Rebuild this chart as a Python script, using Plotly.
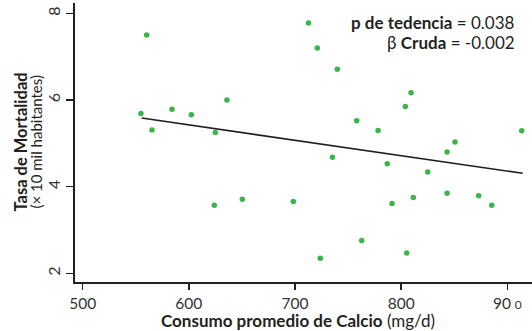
import plotly.graph_objects as go

# Data
calcio = [560.3, 554.9, 565.3, 584.1, 602.3, 635.9, 624.9, 712.7, 721.0, 739.8,
          809.3, 803.9, 758.1, 778.2, 913.5, 850.7, 843.2, 735.3, 624.0, 650.4,
          698.4, 786.9, 825.0, 843.2, 873.0, 885.3, 811.4, 791.4, 762.8, 805.2,
          723.8, 796.7]
mortalidad = [7.50, 5.69, 5.31, 5.79, 5.66, 6.00, 5.25, 7.78, 7.20, 6.71,
              6.17, 5.85, 5.52, 5.30, 5.29, 5.03, 4.80, 4.68, 3.57, 3.71,
              3.66, 4.53, 4.34, 3.85, 3.79, 3.57, 3.75, 3.61, 2.76, 2.47,
              2.35, 8.31]
fit_x = [555.6, 914.5]
fit_y = [5.585, 4.31]
x_ticks = [500, 600, 700, 800, 900]
x_ticktext = ["500", "600", "700", "800", "90 <span style='font-size:12px'>0</span>"]
y_ticks = [2, 4, 6, 8]

FONT = "Lato"
INK = "#231f20"
GREEN = "#3bb54a"
TICKC = "#333333"

fig = go.Figure()
fig.add_trace(go.Scatter(x=calcio, y=mortalidad, mode="markers",
                         marker=dict(color=GREEN, size=5.5, line=dict(width=0)),
                         cliponaxis=False, showlegend=False, hoverinfo="skip"))
fig.add_trace(go.Scatter(x=fit_x, y=fit_y, mode="lines",
                         line=dict(color=INK, width=1.6), showlegend=False,
                         hoverinfo="skip"))

fig.update_layout(
    width=532, height=331,
    margin=dict(l=75, r=0, t=3, b=49),
    plot_bgcolor="white", paper_bgcolor="white",
    font=dict(family=FONT, color=INK, size=14),
    xaxis=dict(range=[492.8, 923.2], tickvals=x_ticks, ticktext=x_ticktext,
               showline=True, linecolor=INK, linewidth=2, ticks="outside",
               ticklen=6, tickwidth=1.5, tickcolor=INK, showgrid=False,
               zeroline=False, tickfont=dict(size=15.5, family=FONT, color=TICKC)),
    yaxis=dict(range=[1.801, 8.24], tickvals=y_ticks, tickangle=-90,
               showline=True, linecolor=INK, linewidth=2, ticks="outside",
               ticklen=7, tickwidth=1.5, tickcolor=INK, showgrid=False,
               zeroline=False, tickfont=dict(size=16, family=FONT, color=TICKC)),
    annotations=[
        dict(text="<b>p de tedencia</b> = 0.038",
             xref="x", yref="y", x=909.1, y=7.785, xanchor="right", yanchor="middle",
             align="right", showarrow=False, font=dict(size=17, family=FONT, color=INK)),
        dict(text="β <b>Cruda</b> = -0.002",
             xref="x", yref="y", x=909.1, y=7.32, xanchor="right", yanchor="middle",
             align="right", showarrow=False, font=dict(size=17, family=FONT, color=INK)),
        dict(text="<b>Tasa de Mortalidad</b>",
             xref="paper", yref="paper", x=(20 - 75) / 457, y=0.5,
             xanchor="center", yanchor="middle", textangle=-90, showarrow=False,
             font=dict(size=16.5, family=FONT, color=INK)),
        dict(text="(× 10 mil habitantes)",
             xref="paper", yref="paper", x=(35 - 75) / 457, y=0.5,
             xanchor="center", yanchor="middle", textangle=-90, showarrow=False,
             font=dict(size=15, family=FONT, color=INK)),
        dict(text="<b>Consumo promedio de Calcio</b> (mg/d)",
             xref="paper", yref="paper", x=(298 - 75) / 457, y=-(321 - 282.3) / 279.3,
             xanchor="center", yanchor="middle", showarrow=False,
             font=dict(size=17, family=FONT, color=INK)),
    ],
)

fig.write_html("out.html", config={"displayModeBar": False, "staticPlot": True},
               post_script="document.body.style.margin='0';document.body.style.padding='0';")
